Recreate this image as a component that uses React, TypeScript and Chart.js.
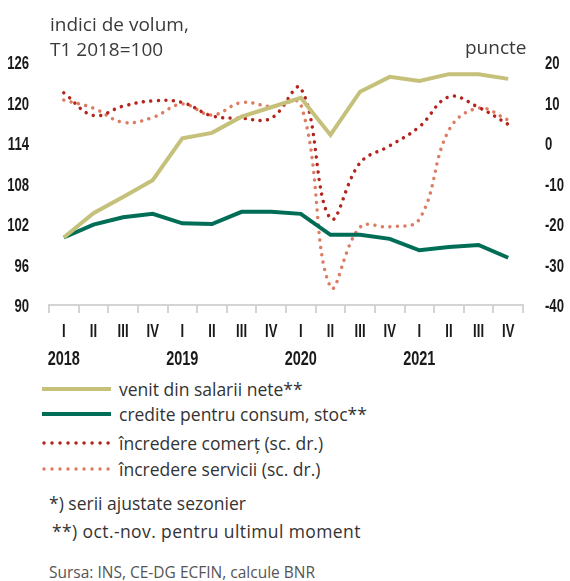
import React, { useEffect, useRef } from 'react';
import { Chart, registerables } from 'chart.js';

Chart.register(...registerables);

const quarters = ['I', 'II', 'III', 'IV', 'I', 'II', 'III', 'IV', 'I', 'II', 'III', 'IV', 'I', 'II', 'III', 'IV'];
const years = ['2018', '', '', '', '2019', '', '', '', '2020', '', '', '', '2021', '', '', ''];

const venit = [100, 103.6, 106, 108.5, 114.7, 115.5, 117.9, 119.3, 120.7, 115.2, 121.6, 123.8, 123.2, 124.2, 124.2, 123.5];
const credite = [100, 101.9, 103, 103.5, 102.1, 102, 103.8, 103.8, 103.5, 100.4, 100.4, 99.8, 98.1, 98.6, 98.9, 97];
const comert = [12.4, 6.8, 9.1, 10.4, 10, 6.7, 6.1, 6.1, 13.5, -18.6, -4.9, -0.7, 4.0, 11.4, 8.8, 4.6];
const servicii = [10.6, 8.6, 5.1, 6.3, 9.6, 6.9, 10, 9, 9.5, -35.5, -20.8, -20.7, -18.8, 3.2, 8.6, 5.7];

const leftTicks = [90, 96, 102, 108, 114, 120, 126];
const rightTicks = [-40, -30, -20, -10, 0, 10, 20];

const seriesNames = [
  'venit din salarii nete**',
  'credite pentru consum, stoc**',
  'încredere comerț (sc. dr.)',
  'încredere servicii (sc. dr.)',
];

const OLIVE = '#c5c17a';
const GREEN = '#006e56';
const RED = '#b3241c';
const SALMON = '#dc7c63';

const TICK_FONT = "'Liberation Sans', Arial, sans-serif";
const TEXT_FONT = "'Open Sans', 'Noto Sans', sans-serif";
const SQUEEZE = 0.69;

const condensedTicks = {
  id: 'condensedTicks',
  afterDraw(chart: any) {
    const ctx = chart.ctx as CanvasRenderingContext2D;
    const draw = (text: string, x: number, y: number, align: CanvasTextAlign, size: number) => {
      ctx.save();
      ctx.font = `bold ${size}px ${TICK_FONT}`;
      ctx.fillStyle = '#1a1a1a';
      ctx.textAlign = align;
      ctx.textBaseline = 'middle';
      ctx.translate(x, y);
      ctx.scale(SQUEEZE, 1);
      ctx.fillText(text, 0, 0);
      ctx.restore();
    };
    const ys = chart.scales.y;
    leftTicks.forEach((v) => draw(String(v), ys.right - 20, ys.getPixelForValue(v) + 2, 'right', 19));
    const y2 = chart.scales.y2;
    rightTicks.forEach((v) => draw(String(v), y2.left + 22, y2.getPixelForValue(v) + 2, 'left', 19));
    const xs = chart.scales.x;
    quarters.forEach((q, i) => {
      const px = xs.getPixelForTick(i);
      draw(q, px, xs.top + 27, 'center', 19);
      if (years[i]) draw(years[i], px, xs.top + 54, 'center', 21);
    });
  },
};

export default function App() {
  const ref = useRef<HTMLCanvasElement | null>(null);

  useEffect(() => {
    document.body.style.margin = '0';
    const chart = new Chart(ref.current as HTMLCanvasElement, {
      type: 'line',
      data: {
        labels: quarters,
        datasets: [
          {
            label: seriesNames[0],
            data: venit,
            yAxisID: 'y',
            borderColor: OLIVE,
            borderWidth: 4,
            pointRadius: 0,
            tension: 0,
          },
          {
            label: seriesNames[1],
            data: credite,
            yAxisID: 'y',
            borderColor: GREEN,
            borderWidth: 4,
            pointRadius: 0,
            tension: 0,
          },
          {
            label: seriesNames[2],
            data: comert,
            yAxisID: 'y2',
            borderColor: RED,
            borderWidth: 3.5,
            borderDash: [0.01, 7.5],
            borderCapStyle: 'round',
            pointRadius: 0,
            tension: 0.4,
          },
          {
            label: seriesNames[3],
            data: servicii,
            yAxisID: 'y2',
            borderColor: SALMON,
            borderWidth: 3.5,
            borderDash: [0.01, 7.5],
            borderCapStyle: 'round',
            pointRadius: 0,
            tension: 0.4,
          },
        ],
      },
      options: {
        animation: false,
        responsive: false,
        maintainAspectRatio: false,
        layout: { padding: { top: 62, left: 0, right: 0, bottom: 0 } },
        plugins: { legend: { display: false }, tooltip: { enabled: false } },
        scales: {
          x: {
            type: 'category',
            offset: true,
            grid: {
              offset: true,
              drawOnChartArea: false,
              drawTicks: true,
              tickLength: 8,
              tickColor: '#d4d4d4',
              lineWidth: 2,
            },
            border: { display: true, color: '#d4d4d4', width: 2 },
            ticks: { display: false, autoSkip: false },
            afterFit: (s: any) => {
              s.height = 65;
            },
          },
          y: {
            position: 'left',
            min: leftTicks[0],
            max: leftTicks[leftTicks.length - 1],
            afterBuildTicks: (s: any) => {
              s.ticks = leftTicks.map((v) => ({ value: v }));
            },
            grid: { display: false, drawTicks: false },
            border: { display: false },
            ticks: { display: false },
            afterFit: (s: any) => {
              s.width = 49;
            },
          },
          y2: {
            position: 'right',
            min: rightTicks[0],
            max: rightTicks[rightTicks.length - 1],
            afterBuildTicks: (s: any) => {
              s.ticks = rightTicks.map((v) => ({ value: v }));
            },
            grid: { display: false, drawTicks: false },
            border: { display: false },
            ticks: { display: false },
            afterFit: (s: any) => {
              s.width = 47;
            },
          },
        },
      },
      plugins: [condensedTicks],
    });
    return () => chart.destroy();
  }, []);

  const legendColors = [OLIVE, GREEN, RED, SALMON];
  const legendY = [389, 414, 443, 469];

  return (
    <div style={{ position: 'relative', width: 570, height: 581, background: '#fff', overflow: 'hidden' }}>
      <canvas ref={ref} width={570} height={370} style={{ position: 'absolute', left: 0, top: 0, width: 570, height: 370 }} />
      <div style={{ position: 'absolute', left: 50, top: 12, font: `19px ${TEXT_FONT}`, color: '#3a3a3a', lineHeight: '25px', whiteSpace: 'nowrap' }}>
        indici de volum,
        <br />
        T1 2018=100
      </div>
      <div style={{ position: 'absolute', left: 465, top: 35, font: `19px ${TEXT_FONT}`, color: '#3a3a3a', lineHeight: '25px' }}>puncte</div>
      {seriesNames.map((name, i) => (
        <div key={i} style={{ position: 'absolute', left: 0, top: legendY[i] - 13, height: 26, width: 570 }}>
          <svg style={{ position: 'absolute', left: 40, top: 0 }} width={74} height={26}>
            {i < 2 ? (
              <line x1={2} y1={13} x2={71} y2={13} stroke={legendColors[i]} strokeWidth={4} />
            ) : (
              <line x1={4} y1={13} x2={71} y2={13} stroke={legendColors[i]} strokeWidth={3.5} strokeDasharray="0.01 8" strokeLinecap="round" />
            )}
          </svg>
          <div style={{ position: 'absolute', left: 119, top: 0, font: `17.5px ${TEXT_FONT}`, color: '#333', lineHeight: '26px', whiteSpace: 'nowrap' }}>{name}</div>
        </div>
      ))}
      <div style={{ position: 'absolute', left: 49, top: 490, font: `17.5px ${TEXT_FONT}`, color: '#333', lineHeight: '26px', whiteSpace: 'nowrap' }}>*) serii ajustate sezonier</div>
      <div style={{ position: 'absolute', left: 52, top: 518, font: `17.5px ${TEXT_FONT}`, color: '#333', lineHeight: '26px', whiteSpace: 'nowrap', letterSpacing: '0.4px' }}>**) oct.-nov. pentru ultimul moment</div>
      <div style={{ position: 'absolute', left: 49, top: 561, font: `15.5px ${TEXT_FONT}`, color: '#555', lineHeight: '22px', whiteSpace: 'nowrap' }}>Sursa: INS, CE-DG ECFIN, calcule BNR</div>
    </div>
  );
}
